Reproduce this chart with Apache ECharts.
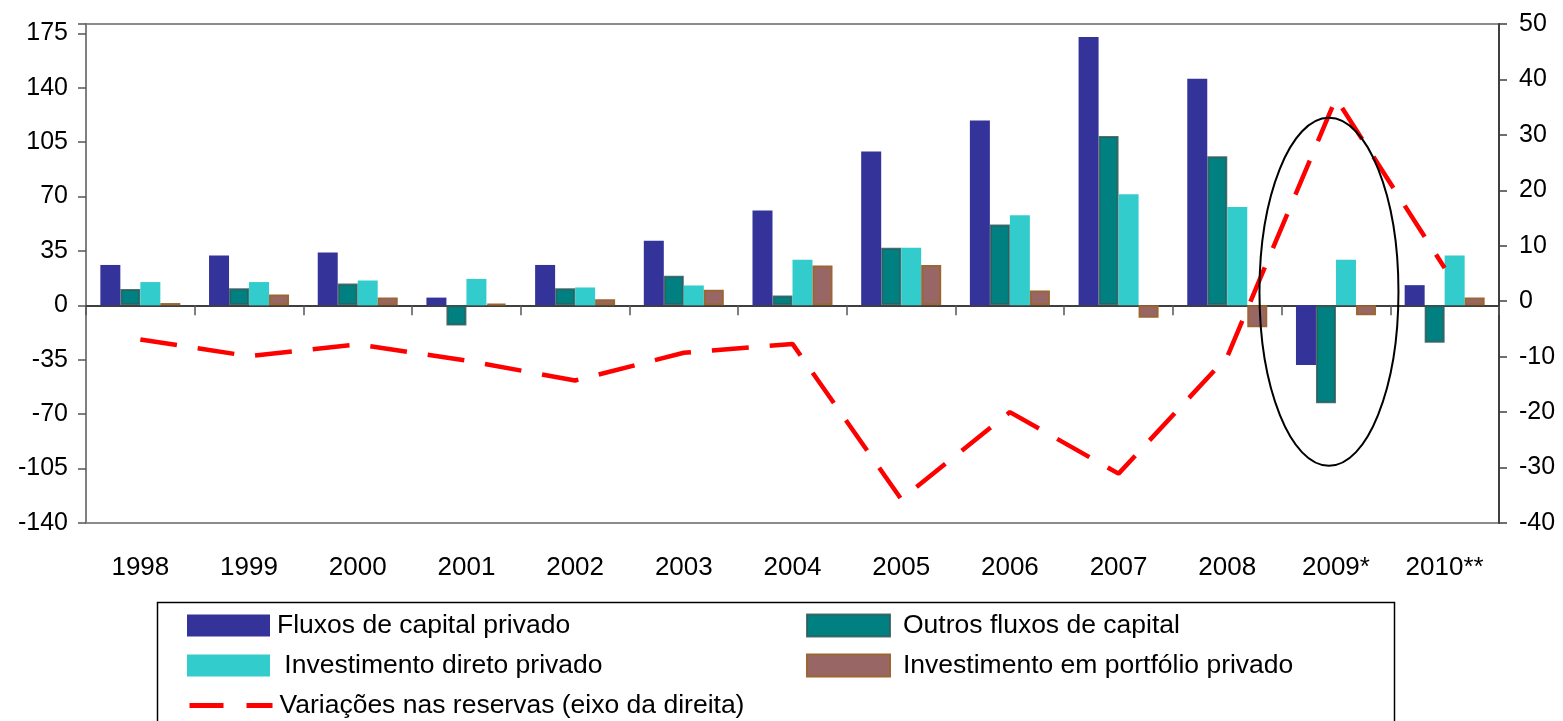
<!DOCTYPE html>
<html>
<head>
<meta charset="utf-8">
<script src="https://cdn.jsdelivr.net/npm/echarts@6/dist/echarts.min.js"></script>
<style>
  html, body { margin: 0; padding: 0; background: #fff; }
  #chart { width: 1563px; height: 721px; }
</style>
</head>
<body>
<div id="chart"></div>
<script>
// categories
const years = ['1998', '1999', '2000', '2001', '2002', '2003', '2004', '2005', '2006', '2007', '2008', '2009*', '2010**'];

// bars (left axis)
const fluxosPrivado   = [26, 32, 34, 5, 26, 41.6, 61, 99, 119, 172.7, 145.7, -38.4, 13];
const outrosFluxos    = [10.5, 11, 14, -13, 11, 19, 6.4, 37, 52, 109, 96, -63, -24];
const investDireto    = [15, 15, 16, 17, 11.5, 12.8, 29.4, 37, 58, 71.5, 63.3, 29.4, 32];
const investPortfolio = [1.5, 7, 5, 1, 4, 10, 25.6, 26, 9.6, -8, -14, -6.4, 5];

// line (right axis)
const reservas = [-6.9, -9.9, -7.8, -10.7, -14.3, -9.3, -7.7, -35.7, -20, -31.1, -10, 36.6, 6];

// axis ticks
const leftTicks = { min: -140, max: 181, interval: 35 };
const rightTicks = { min: -40, max: 50, interval: 10 };

const names = {
  fluxos: 'Fluxos de capital privado',
  outros: 'Outros fluxos de capital',
  direto: ' Investimento direto privado',
  portfolio: 'Investimento em portfólio privado',
  reservas: 'Variações nas reservas (eixo da direita)'
};

const FONT = '"Liberation Sans", Arial, sans-serif';

const chart = echarts.init(document.getElementById('chart'));

const barBase = { type: 'bar', xAxisIndex: 0, yAxisIndex: 0, barWidth: 20, barGap: '0%' };

// one legend per entry so the two columns line up like the original box
function legendItem(name, left, top, extra) {
  return Object.assign({
    left: left, top: top, orient: 'horizontal', padding: 0,
    itemWidth: 83, itemHeight: 22, icon: 'rect',
    textStyle: { fontSize: 26.5, fontFamily: FONT, color: '#000', padding: [0, 0, 0, 2] },
    data: [name]
  }, extra || {});
}

const rightText = { fontSize: 26.5, fontFamily: FONT, color: '#000', padding: [0, 0, 0, 8] };

const option = {
  animation: false,
  textStyle: { fontFamily: FONT, color: '#000' },
  grid: { left: 86, right: 64, top: 24, bottom: 198, show: true, borderColor: '#8c8c8c', borderWidth: 2 },
  legend: [
    legendItem(names.fluxos, 187, 612),
    legendItem(names.direto, 187, 652),
    legendItem(names.reservas, 187, 692, {
      icon: undefined,
      itemStyle: { color: 'rgba(0,0,0,0)', borderWidth: 0, borderColor: 'rgba(0,0,0,0)' },
      lineStyle: { width: 5, type: [34, 23], cap: 'butt' }
    }),
    legendItem(names.outros, 806, 612, { textStyle: rightText }),
    legendItem(names.portfolio, 806, 652, { textStyle: rightText })
  ],
  xAxis: [
    {
      type: 'category', data: years, position: 'bottom',
      axisLine: { onZero: true, lineStyle: { color: '#000', width: 1.5 } },
      axisTick: { show: true, length: 10, lineStyle: { color: '#555', width: 1.5 } },
      axisLabel: { show: false },
      splitLine: { show: false }
    },
    {
      type: 'category', data: years, position: 'bottom',
      axisLine: { show: false, onZero: false },
      axisTick: { show: false },
      axisLabel: { fontSize: 26, fontFamily: FONT, color: '#000', margin: 32 },
      splitLine: { show: false }
    }
  ],
  yAxis: [
    {
      type: 'value', position: 'left',
      min: leftTicks.min, max: leftTicks.max, interval: leftTicks.interval,
      axisLine: { show: true, lineStyle: { color: '#808080', width: 2 } },
      axisTick: { show: true, length: 8, lineStyle: { color: '#555', width: 1.5 } },
      axisLabel: {
        fontSize: 25, fontFamily: FONT, color: '#000', margin: 18,
        formatter: v => (v % leftTicks.interval === 0 ? String(v) : '')
      },
      splitLine: { show: false }
    },
    {
      type: 'value', position: 'right',
      min: rightTicks.min, max: rightTicks.max, interval: rightTicks.interval,
      axisLine: { show: true, lineStyle: { color: '#404040', width: 2 } },
      axisTick: { show: true, length: 8, lineStyle: { color: '#404040', width: 1.5 } },
      axisLabel: { fontSize: 25, fontFamily: FONT, color: '#000', margin: 20 },
      splitLine: { show: false }
    }
  ],
  series: [
    Object.assign({}, barBase, {
      name: names.fluxos, data: fluxosPrivado,
      itemStyle: { color: '#333399' }
    }),
    Object.assign({}, barBase, {
      name: names.outros, data: outrosFluxos,
      itemStyle: { color: '#008080', borderColor: 'rgba(47,90,90,0.85)', borderWidth: 2 }
    }),
    Object.assign({}, barBase, {
      name: names.direto, data: investDireto,
      itemStyle: { color: '#33CCCC' }
    }),
    Object.assign({}, barBase, {
      name: names.portfolio, data: investPortfolio,
      itemStyle: { color: '#996666', borderColor: '#9c6633', borderWidth: 2 }
    }),
    {
      name: names.reservas, type: 'line',
      xAxisIndex: 0, yAxisIndex: 1, data: reservas,
      symbol: 'none', showSymbol: false, z: 5,
      lineStyle: { color: '#FF0000', width: 4.5, type: [37, 21], cap: 'butt' },
      itemStyle: { color: '#FF0000' }
    }
  ]
};

chart.setOption(option);

// legend box and the ellipse highlighting 2009*
const mark = chart.convertToPixel({ xAxisIndex: 0, yAxisIndex: 0 }, ['2009*', 8.7]);
chart.setOption({
  graphic: [
    {
      type: 'rect', left: 155, top: 600, z: 0,
      shape: { width: 1237, height: 160 },
      style: { fill: 'none', stroke: '#000', lineWidth: 1.5 }
    },
    {
      type: 'ellipse', z: 100,
      shape: { cx: mark[0] - 7, cy: mark[1], rx: 69.5, ry: 174 },
      style: { fill: 'none', stroke: '#000', lineWidth: 2 }
    }
  ]
});
</script>
</body>
</html>
